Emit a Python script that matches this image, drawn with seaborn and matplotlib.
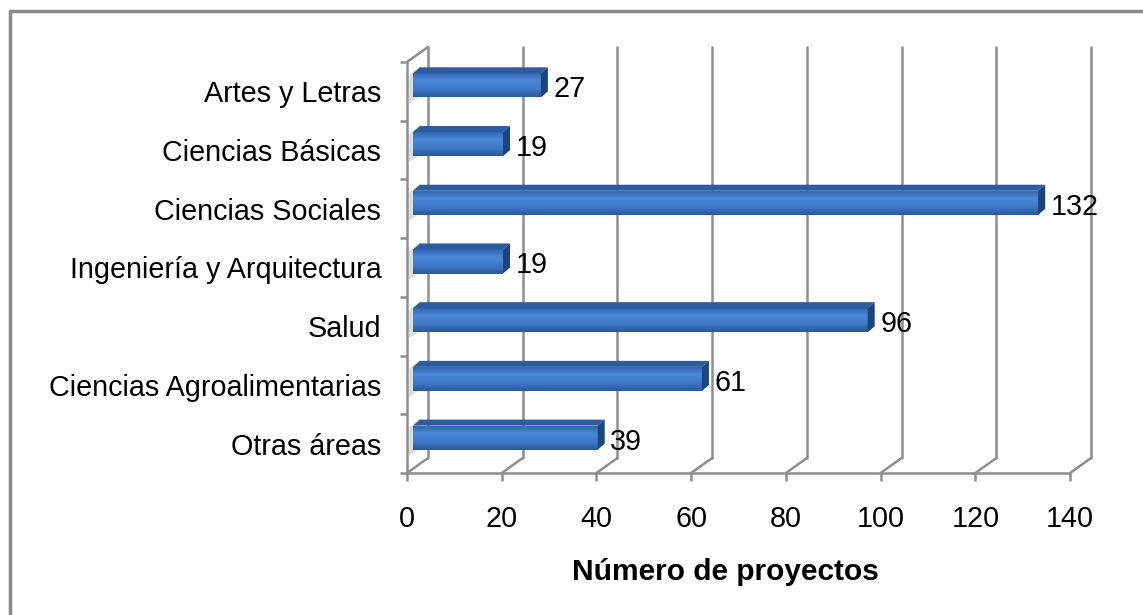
import numpy as np
import pandas as pd
import matplotlib
matplotlib.use('Agg')
import matplotlib.pyplot as plt
import seaborn as sns
from matplotlib.transforms import ScaledTranslation, IdentityTransform
from matplotlib.patches import Polygon
from matplotlib.lines import Line2D
from matplotlib.colors import LinearSegmentedColormap

# Data
areas = ['Artes y Letras', 'Ciencias Básicas', 'Ciencias Sociales',
         'Ingeniería y Arquitectura', 'Salud', 'Ciencias Agroalimentarias',
         'Otras áreas']
proyectos = [27, 19, 132, 19, 96, 61, 39]
x_ticks = [0, 20, 40, 60, 80, 100, 120, 140]

sns.set_theme(style='white')
plt.rcParams['font.family'] = ['Liberation Sans', 'DejaVu Sans']
plt.rcParams['text.color'] = 'black'
plt.rcParams['xtick.labelcolor'] = 'black'
plt.rcParams['ytick.labelcolor'] = 'black'

fs = 20.7
fig = plt.figure(figsize=(11.43, 6.15), dpi=100)
ax = fig.add_axes([0.3561, 0.2309, 0.5801, 0.6683])
ax.patch.set_alpha(0)

df = pd.DataFrame({'area': areas, 'n': proyectos})
sns.barplot(data=df, x='n', y='area', color='#3b74c4', width=0.41,
            saturation=1, ax=ax, zorder=3)
ax.set_xlim(0, 140)
ax.set_ylim(6.5, -0.5)

grid_col = '#8e8e8e'
lw = 1.8
px = fig.dpi_scale_trans
back = ax.transData + ScaledTranslation(21 / 100, 15 / 100, px)
bar_off = ax.transData + ScaledTranslation(6 / 100, 6 / 100, px)

# back wall gridlines and floor diagonals
for xt in x_ticks:
    ax.plot([xt, xt], [6.5, -0.5], color=grid_col, lw=lw, transform=back,
            clip_on=False, zorder=1)
    p0 = ax.transData.transform((xt, 6.5))
    fig.add_artist(Line2D([p0[0], p0[0] + 21], [p0[1], p0[1] + 15],
                          color=grid_col, lw=lw, transform=IdentityTransform()))
p0 = ax.transData.transform((0, -0.5))
fig.add_artist(Line2D([p0[0], p0[0] + 21], [p0[1], p0[1] + 15],
                      color=grid_col, lw=lw, transform=IdentityTransform()))

# 3D-ish bars: gradient front face, darker top and side
cmap = LinearSegmentedColormap.from_list(
    'bar', ['#2f64ad', '#4a88d6', '#3f7bc9', '#2a5797'])
grad = np.linspace(0, 1, 100).reshape(-1, 1)
f0 = ax.transData.transform((0, 0))[0]
for p, v in zip(ax.patches, proyectos):
    p.set_transform(bar_off)
    p.set_edgecolor('none')
    x, y, w, h = p.get_x(), p.get_y(), p.get_width(), p.get_height()
    im = ax.imshow(grad, cmap=cmap, extent=(x, x + w, y + h, y),
                   aspect='auto', zorder=3, interpolation='bicubic')
    im.set_transform(bar_off)
    im.set_clip_path(p)
    (xl, y1), (xr, y2) = bar_off.transform([(x, y), (x + w, y + h)])
    yt, yb = max(y1, y2), min(y1, y2)
    # soft shadow on the left wall
    shadow = Polygon([(f0 + 2, yb - 6), (f0 + 2, yt - 2), (f0 + 14, yt + 8),
                      (f0 + 14, yb + 2)], closed=True, facecolor='#d6d6d6',
                     edgecolor='none', alpha=0.8, zorder=0,
                     transform=IdentityTransform())
    fig.add_artist(shadow)
    top = Polygon([(xl, yt), (xr, yt), (xr + 7, yt + 6), (xl + 7, yt + 6)],
                  closed=True, facecolor='#2d5c9e', edgecolor='none',
                  transform=IdentityTransform())
    side = Polygon([(xr, yb), (xr, yt), (xr + 7, yt + 6), (xr + 7, yb + 6)],
                   closed=True, facecolor='#1f4479', edgecolor='none',
                   transform=IdentityTransform())
    fig.add_artist(top)
    fig.add_artist(side)

ax.set_xlim(0, 140)
ax.set_ylim(6.5, -0.5)

# value labels
for i, v in enumerate(proyectos):
    ax.annotate(str(v), xy=(v, i), xytext=(13.3, 1.5),
                textcoords='offset points', ha='left', va='center',
                fontsize=fs, color='black')

for s in ['top', 'right']:
    ax.spines[s].set_visible(False)
for s in ['left', 'bottom']:
    ax.spines[s].set_color(grid_col)
    ax.spines[s].set_linewidth(lw)

ax.set_xticks(x_ticks)
ax.tick_params(axis='x', which='major', length=5.8, width=lw, color=grid_col,
               direction='out', pad=17.5, labelsize=fs, bottom=True)
ax.set_yticks(np.arange(-0.5, 7, 1), minor=True)
ax.tick_params(axis='y', which='minor', length=5, width=lw, color=grid_col,
               direction='out', left=True)
ax.tick_params(axis='y', which='major', length=0, pad=18.5, labelsize=fs)
ax.set_xlabel('')
ax.set_ylabel('')

fig.text(725 / 1143, 1 - 572 / 615, 'Número de proyectos', ha='center',
         va='center', fontsize=21.5, fontweight='bold', color='black')

# chart frame (left and top edges visible)
fig.add_artist(Line2D([10 / 1143, 10 / 1143], [0, 1 - 11 / 615],
                      color='#8a8a8a', lw=2.5, transform=fig.transFigure))
fig.add_artist(Line2D([10 / 1143, 1], [1 - 11 / 615, 1 - 11 / 615],
                      color='#8a8a8a', lw=2.5, transform=fig.transFigure))

fig.savefig('out.png', dpi=100)
